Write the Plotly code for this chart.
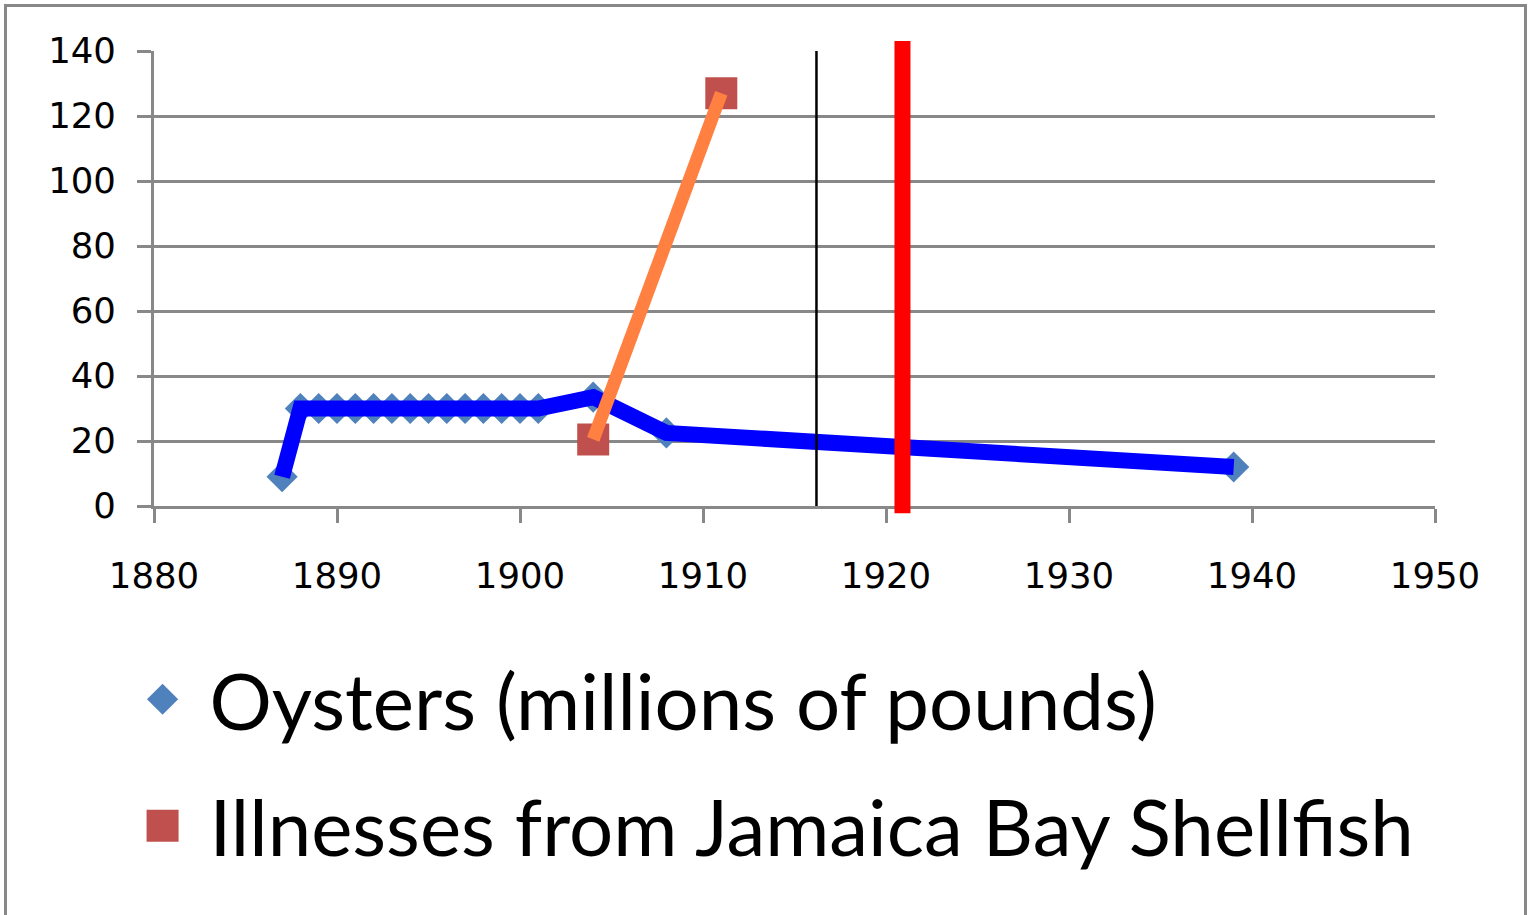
import plotly.graph_objects as go

# ---- data ----
oyster_years = [1887, 1888, 1889, 1890, 1891, 1892, 1893, 1894, 1895, 1896, 1897,
                1898, 1899, 1900, 1901, 1904, 1908, 1939]
oyster_values = [9, 30, 30, 30, 30, 30, 30, 30, 30, 30, 30,
                 30, 30, 30, 30, 33.5, 22.5, 12]

illness_years = [1904, 1911]
illness_values = [20.5, 127]

black_marker_year = 1916.2
red_marker_year = 1920.9

x_ticks = [1880, 1890, 1900, 1910, 1920, 1930, 1940, 1950]
y_ticks = [0, 20, 40, 60, 80, 100, 120, 140]

GRID = "#888888"
TICKFONT = dict(family="DejaVu Sans", size=35.5, color="black")

W, H = 1528, 915
ML, MR, MT, MB = 154, 93, 51, 409
PW, PH = W - ML - MR, H - MT - MB

fig = go.Figure()

# Oyster markers (drawn underneath the thick line)
fig.add_trace(go.Scatter(
    x=oyster_years, y=oyster_values, mode="markers",
    name="Oysters (millions of pounds)",
    marker=dict(symbol="diamond", size=24, color="#4F81BD"),
    legendgroup="a",
))
fig.add_trace(go.Scatter(
    x=oyster_years, y=oyster_values, mode="lines",
    line=dict(color="#0000FF", width=16),
    showlegend=False, hoverinfo="skip",
))
# Illness markers + orange line on top
fig.add_trace(go.Scatter(
    x=illness_years, y=illness_values, mode="markers",
    name="Illnesses from Jamaica Bay Shellfish",
    marker=dict(symbol="square", size=32, color="#C0504D"),
    legendgroup="b",
))
fig.add_trace(go.Scatter(
    x=illness_years, y=illness_values, mode="lines",
    line=dict(color="#FF8040", width=13),
    showlegend=False, hoverinfo="skip",
))

shapes = [
    dict(type="line", xref="x", yref="y", x0=black_marker_year, x1=black_marker_year,
         y0=y_ticks[0], y1=y_ticks[-1], line=dict(color="black", width=2.5), layer="above"),
    dict(type="line", xref="x", yref="paper", x0=red_marker_year, x1=red_marker_year,
         y0=-0.016, y1=1.022, line=dict(color="#FF0000", width=16), layer="above"),
    # outer frame (page coordinates converted to paper fractions)
    dict(type="rect", xref="paper", yref="paper",
         x0=(5.5 - ML) / PW, x1=(1525.5 - ML) / PW,
         y0=-0.95, y1=(MT + PH - 5.5) / PH,
         line=dict(color=GRID, width=3), fillcolor="rgba(0,0,0,0)", layer="above"),
]

fig.update_layout(
    width=W, height=H,
    margin=dict(l=ML, r=MR, t=MT, b=MB),
    paper_bgcolor="white", plot_bgcolor="white",
    shapes=shapes,
    showlegend=True,
    legend=dict(
        x=-0.030, y=-0.299, xanchor="left", yanchor="top",
        font=dict(family="Lato", size=78, color="black"),
        traceorder="grouped", tracegroupgap=22,
        bgcolor="rgba(0,0,0,0)", itemwidth=84,
    ),
    xaxis=dict(
        range=[1880, 1950], tickvals=x_ticks, ticktext=[str(v) for v in x_ticks],
        showgrid=False, zeroline=False,
        showline=True, linecolor=GRID, linewidth=3,
        ticks="outside", ticklen=14, tickwidth=3, tickcolor=GRID,
        tickfont=TICKFONT, ticklabelstandoff=22,
    ),
    yaxis=dict(
        range=[0, 140], tickvals=y_ticks, ticktext=[str(v) for v in y_ticks],
        showgrid=True, gridcolor=GRID, gridwidth=3, zeroline=False,
        showline=True, linecolor=GRID, linewidth=3,
        ticks="outside", ticklen=14, tickwidth=3, tickcolor=GRID,
        tickfont=TICKFONT, ticklabelstandoff=14,
    ),
)

# remove the page margin and enlarge the legend symbols (plotly caps them at 16px)
POST = """
document.body.style.margin='0';
document.body.style.overflow='hidden';
var scales=[1.5,2.0];
document.querySelectorAll('.legend .traces').forEach(function(g,i){
  g.querySelectorAll('.legendpoints path.scatterpts').forEach(function(p){
    var t=p.getAttribute('transform')||'';
    p.setAttribute('transform', t+' scale('+(scales[i]||1)+')');
  });
});
"""

fig.write_html("out.html", config={"displayModeBar": False}, post_script=POST)
